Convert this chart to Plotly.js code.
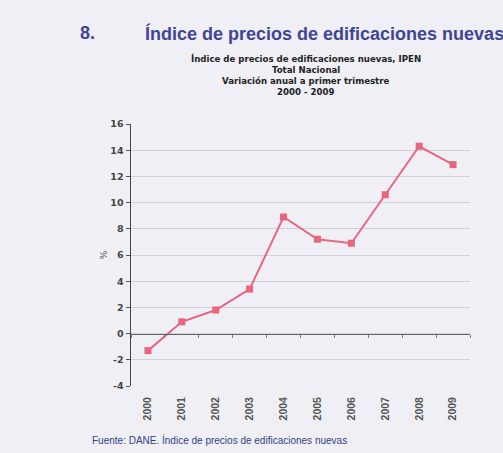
<!DOCTYPE html>
<html>
<head>
<meta charset="utf-8">
<script src="https://cdn.plot.ly/plotly-3.0.1.min.js"></script>
<style>html,body{margin:0;padding:0;background:#efeff5;}#chart{width:503px;height:453px;}</style>
</head>
<body>
<div id="chart"></div>
<script>
var years = ['2000','2001','2002','2003','2004','2005','2006','2007','2008','2009'];
var variacion = [-1.3, 0.9, 1.8, 3.4, 8.9, 7.2, 6.9, 10.6, 14.3, 12.9];
var yTicks = [-4, -2, 0, 2, 4, 6, 8, 10, 12, 14, 16];

var heading = 'Índice de precios de edificaciones nuevas';
var subtitle = ['Índice de precios de edificaciones nuevas, IPEN', 'Total Nacional', 'Variación anual a primer trimestre', '2000 - 2009'];
var source = 'Fuente: DANE. Índice de precios de edificaciones nuevas';

var lineColor = '#e8667e';
var subY = [1.250, 1.208, 1.166, 1.124];

var traces = [
  {
    x: years, y: variacion, type: 'scatter', mode: 'lines+markers',
    line: {color: lineColor, width: 2},
    marker: {symbol: 'square', size: 7, color: lineColor},
    showlegend: false, hoverinfo: 'x+y'
  },
  {
    x: years, y: variacion, xaxis: 'x2', type: 'scatter', mode: 'lines',
    line: {color: 'rgba(0,0,0,0)', width: 0},
    showlegend: false, hoverinfo: 'skip'
  }
];

var annotations = [
  {xref: 'paper', yref: 'paper', x: -0.157, y: 1.347, xanchor: 'left', yanchor: 'middle',
   text: '<b>8.</b>', showarrow: false, font: {size: 18, color: '#3f4596'}},
  {xref: 'paper', yref: 'paper', x: 0.036, y: 1.347, xanchor: 'left', yanchor: 'middle',
   text: '<b>' + heading + '</b>', showarrow: false, font: {size: 18, color: '#3f4596'}},
  {xref: 'paper', yref: 'paper', x: -0.12, y: -0.206, xanchor: 'left', yanchor: 'middle',
   text: source, showarrow: false, font: {size: 10, color: '#2f3f85'}}
];
subtitle.forEach(function (t, i) {
  annotations.push({xref: 'paper', yref: 'paper', x: 0.515, y: subY[i], xanchor: 'center', yanchor: 'middle',
    text: '<b>' + t + '</b>', showarrow: false, borderpad: 0,
    font: {family: 'DejaVu Sans, sans-serif', size: 8.6, color: '#222'}});
});

var layout = {
  width: 503, height: 453,
  paper_bgcolor: '#efeff5', plot_bgcolor: '#efeff5',
  margin: {l: 131, r: 33, t: 124, b: 67},
  font: {family: 'Liberation Sans, Arial, sans-serif', color: '#333'},
  xaxis: {
    type: 'category', range: [-0.5, 9.5],
    showline: false, ticks: '', showgrid: false, zeroline: false,
    tickangle: -90, ticklabelstandoff: 8,
    tickfont: {family: 'Liberation Sans, Arial, sans-serif', size: 10.5, color: '#555', weight: 'bold'}
  },
  xaxis2: {
    type: 'category', range: [-0.5, 9.5], overlaying: 'x', anchor: 'free', position: 0.2,
    showline: true, linecolor: '#666', linewidth: 1.5,
    ticks: 'outside', tickson: 'boundaries', ticklen: 3, tickcolor: '#777',
    showticklabels: false, showgrid: false, zeroline: false
  },
  yaxis: {
    range: [-4, 16], tickvals: yTicks, ticktext: yTicks.map(String),
    showline: true, linecolor: '#444', linewidth: 1.5,
    ticks: 'outside', ticklen: 4, tickcolor: '#555',
    showgrid: true, gridcolor: '#cfd0d9', gridwidth: 1,
    zeroline: false,
    tickfont: {family: 'DejaVu Sans, sans-serif', size: 9.5, color: '#444', weight: 'bold'},
    title: {text: '%', font: {family: 'DejaVu Sans, sans-serif', size: 9, color: '#555'}, standoff: 1}
  },
  annotations: annotations
};

Plotly.newPlot('chart', traces, layout, {displayModeBar: false, staticPlot: true});
</script>
</body>
</html>
